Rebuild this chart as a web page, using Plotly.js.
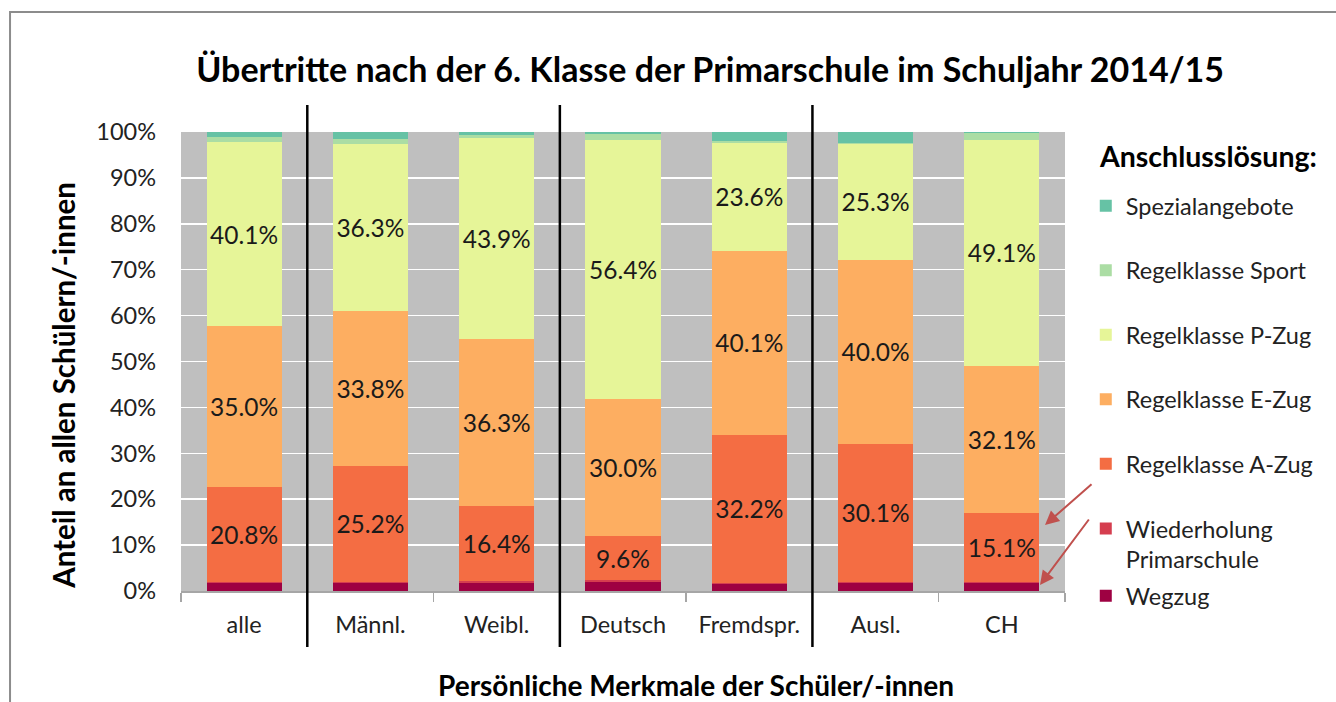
<!DOCTYPE html>
<html>
<head>
<meta charset="utf-8">
<script src="https://cdn.plot.ly/plotly-3.0.1.min.js"></script>
<style>html,body{margin:0;padding:0;background:#fff;}#chart{width:1336px;height:702px;}</style>
</head>
<body>
<div id="chart"></div>
<script>
// ---- data ----
var categories = ['alle', 'Männl.', 'Weibl.', 'Deutsch', 'Fremdspr.', 'Ausl.', 'CH'];
var wegzug       = [1.7, 1.7, 1.7, 2.0, 1.5, 1.7, 1.7];
var wiederholung = [0.2, 0.3, 0.4, 0.3, 0.3, 0.3, 0.2];
var aZug         = [20.8, 25.2, 16.4, 9.6, 32.2, 30.1, 15.1];
var eZug         = [35.0, 33.8, 36.3, 30.0, 40.1, 40.0, 32.1];
var pZug         = [40.1, 36.3, 43.9, 56.4, 23.6, 25.3, 49.1];
var sport        = [1.1, 1.1, 0.7, 1.2, 0.3, 0.3, 1.5];
var spezial      = [1.1, 1.6, 0.6, 0.5, 2.0, 2.3, 0.3];
var yTickVals    = [0, 10, 20, 30, 40, 50, 60, 70, 80, 90, 100];
var yTickText    = ['0%', '10%', '20%', '30%', '40%', '50%', '60%', '70%', '80%', '90%', '100%'];
var separators   = [0.5, 2.5, 4.5];

var FONT = 'Lato, "Noto Sans", "Liberation Sans", sans-serif';

function series(name, vals, color, labelled, rank, legendId) {
  var t = {
    type: 'bar', name: name, x: categories, y: vals,
    marker: {color: color, line: {width: 0}},
    legendgroup: name, legendrank: rank,
    hoverinfo: 'name+y'
  };
  if (legendId) t.legend = legendId;
  if (labelled) {
    t.texttemplate = '%{y:.1f}%';
    t.textposition = 'inside';
    t.insidetextanchor = 'middle';
    t.textangle = 0;
    t.constraintext = 'none';
    t.textfont = {family: FONT, size: 24.5, color: '#1a1a1a'};
  } else {
    t.textposition = 'none';
  }
  return t;
}

var data = [
  series('Wegzug', wegzug, '#9e0142', false, 7, 'legend2'),
  series('Wiederholung<br>Primarschule', wiederholung, '#d53e4f', false, 6),
  series('Regelklasse A-Zug', aZug, '#f46d43', true, 5),
  series('Regelklasse E-Zug', eZug, '#fdae61', true, 4),
  series('Regelklasse P-Zug', pZug, '#e6f598', true, 3),
  series('Regelklasse Sport', sport, '#abdda4', false, 2),
  series('Spezialangebote', spezial, '#66c2a5', false, 1)
];

var shapes = separators.map(function (s) {
  return {type: 'line', xref: 'x', yref: 'paper', x0: s, x1: s, y0: -0.122, y1: 1.0588,
          line: {color: '#000000', width: 2.5}, layer: 'above'};
});
shapes.push({type: 'path', xref: 'paper', yref: 'paper',
  path: 'M -0.1934 -0.26 L -0.1934 1.2614 L 1.32 1.2614',
  line: {color: '#8c8c8c', width: 2}});

var layout = {
  width: 1336, height: 702,
  margin: {l: 181, r: 271, t: 132, b: 111},
  paper_bgcolor: '#ffffff', plot_bgcolor: '#bfbfbf',
  barmode: 'stack', bargap: 0.406,
  font: {family: FONT, size: 23.5, color: '#222222'},
  title: {text: '<b>Übertritte nach der 6. Klasse der Primarschule im Schuljahr 2014/15</b>',
          font: {family: FONT, size: 34, color: '#000000'},
          x: 0.5315, xanchor: 'center', y: 0.90, yanchor: 'middle'},
  xaxis: {type: 'category', range: [-0.5, 6.5], fixedrange: true,
          showline: true, linecolor: '#a6a6a6', linewidth: 1.5,
          ticks: 'outside', tickson: 'boundaries', ticklen: 9, tickcolor: '#a6a6a6', tickwidth: 1.5,
          ticklabelstandoff: 12,
          showgrid: false, zeroline: false,
          tickfont: {family: FONT, size: 23.5, color: '#222222'}},
  yaxis: {range: [0, 100], fixedrange: true,
          tickvals: yTickVals, ticktext: yTickText,
          showgrid: true, gridcolor: '#ffffff', gridwidth: 1.5,
          zeroline: false, showline: false, ticks: '',
          ticklabelstandoff: 24,
          tickfont: {family: FONT, size: 23.5, color: '#222222'}},
  showlegend: true,
  legend: {x: 1.0235, xanchor: 'left', y: 0.887, yanchor: 'top',
           traceorder: 'grouped', tracegroupgap: 31, valign: 'top',
           bgcolor: 'rgba(0,0,0,0)',
           font: {family: FONT, size: 23.5, color: '#222222'}},
  legend2: {x: 1.0235, xanchor: 'left', y: -0.011, yanchor: 'middle',
            bgcolor: 'rgba(0,0,0,0)',
            font: {family: FONT, size: 23.5, color: '#222222'}},
  shapes: shapes,
  annotations: [
    {xref: 'paper', yref: 'paper', x: 1.0366, y: 0.9477, xanchor: 'left', yanchor: 'middle',
     text: '<b>Anschlusslösung:</b>', showarrow: false,
     font: {family: FONT, size: 28.5, color: '#000000'}},
    {xref: 'paper', yref: 'paper', x: 0.583, y: -0.204, xanchor: 'center', yanchor: 'middle',
     text: '<b>Persönliche Merkmale der Schüler/-innen</b>', showarrow: false,
     font: {family: FONT, size: 28, color: '#000000'}},
    {xref: 'paper', yref: 'paper', x: -0.133, y: 0.448, xanchor: 'center', yanchor: 'middle',
     text: '<b>Anteil an allen Schülern/-innen</b>', showarrow: false, textangle: -90,
     font: {family: FONT, size: 29.5, color: '#000000'}},
    {xref: 'paper', yref: 'paper', x: 0.9774, y: 0.1438, ax: 48, ay: -42, text: '',
     showarrow: true, arrowhead: 2, arrowsize: 1.4, arrowwidth: 2, arrowcolor: '#c0504d'},
    {xref: 'paper', yref: 'paper', x: 0.9717, y: 0.0131, ax: 50, ay: -67, text: '',
     showarrow: true, arrowhead: 2, arrowsize: 1.4, arrowwidth: 2, arrowcolor: '#c0504d'}
  ]
};

Plotly.newPlot('chart', data, layout, {displayModeBar: false, staticPlot: true});
</script>
</body>
</html>
